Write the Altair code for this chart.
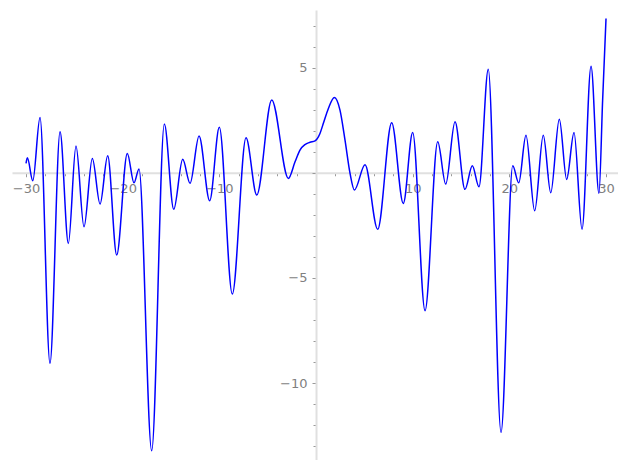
import altair as alt
import pandas as pd

# curve samples (extrema + shape points)
xs = [-30.0, -29.86, -29.3, -28.55, -27.52, -26.48, -25.62, -24.83, -24.0, -23.14,
      -22.34, -21.55, -20.62, -19.52, -18.83, -18.31, -17.0, -15.69, -14.72, -13.79,
      -13.03, -12.10, -11.0, -10.0, -8.66, -7.24, -6.13, -4.58, -2.86, -2.17,
      -1.66, -1.14, -0.62, -0.1, 0.41, 0.76, 1.28, 1.90, 2.48, 3.0,
      3.52, 3.97, 5.07, 6.38, 7.83, 9.03, 10.0, 11.28, 12.59, 13.42,
      14.38, 15.41, 16.17, 16.86, 17.82, 19.14, 20.35, 20.97, 21.72, 22.62,
      23.51, 24.28, 25.17, 25.93, 26.69, 27.52, 28.45, 29.27, 29.65, 30.0]
ys = [0.45, 0.71, -0.38, 2.63, -9.06, 1.95, -3.36, 1.27, -2.57, 0.68,
      -1.49, 0.81, -3.91, 0.92, -0.48, 0.18, -13.22, 2.32, -1.74, 0.64,
      -0.50, 1.75, -1.33, 2.16, -5.77, 1.66, -1.06, 3.46, -0.27, 0.52,
      1.08, 1.34, 1.45, 1.52, 1.87, 2.35, 3.06, 3.58, 2.98, 1.55,
      -0.03, -0.82, 0.38, -2.69, 2.38, -1.46, 1.92, -6.56, 1.47, -0.54,
      2.43, -0.79, 0.33, -0.67, 4.92, -12.35, 0.33, -0.48, 1.78, -1.81,
      1.78, -0.95, 2.55, -0.32, 1.92, -2.69, 5.07, -0.98, 3.45, 7.34]

x_ticks = list(range(-30, 31, 2))
y_ticks = list(range(-13, 8))
x_domain = [-31.45, 31.24]
y_domain = [-13.66, 7.74]

W, H = 606, 450
x0_px = W * (0 - x_domain[0]) / (x_domain[1] - x_domain[0])
y0_px = H * (y_domain[1] - 0) / (y_domain[1] - y_domain[0])

df = pd.DataFrame({"x": xs, "y": ys})

axis_common = dict(
    grid=False,
    title=None,
    domainColor="#e0e0e0",
    domainWidth=2,
    tickColor="#999999",
    tickWidth=1,
    labelColor="#808080",
    labelFont="DejaVu Sans",
    labelFontSize=13,
    labelFlush=False,
    labelOverlap=False,
)

x_axis = alt.Axis(
    orient="bottom",
    offset=-(H - y0_px),
    values=x_ticks,
    labelExpr="(datum.value % 10 === 0 && datum.value !== 0) ? datum.label : ''",
    tickSize={"condition": {"test": "datum.value % 10 === 0", "value": 4}, "value": 3},
    labelPadding=6,
    **axis_common,
)
y_axis = alt.Axis(
    orient="left",
    offset=-x0_px,
    values=y_ticks,
    labelExpr="(datum.value % 5 === 0 && datum.value !== 0) ? datum.label : ''",
    tickSize={"condition": {"test": "datum.value % 5 === 0", "value": 4}, "value": 3},
    labelPadding=5,
    **axis_common,
)

chart = (
    alt.Chart(df)
    .mark_line(color="#0000ff", strokeWidth=1.5, interpolate="monotone")
    .encode(
        x=alt.X("x:Q", scale=alt.Scale(domain=x_domain, nice=False, zero=False), axis=x_axis),
        y=alt.Y("y:Q", scale=alt.Scale(domain=y_domain, nice=False, zero=False), axis=y_axis),
    )
    .properties(
        width=W,
        height=H,
        padding={"left": 4, "top": 2, "right": 0, "bottom": 0},
        autosize="none",
        background="white",
    )
    .configure_view(stroke=None)
)

chart.save("out.html", embed_options={"renderer": "svg", "actions": False})
